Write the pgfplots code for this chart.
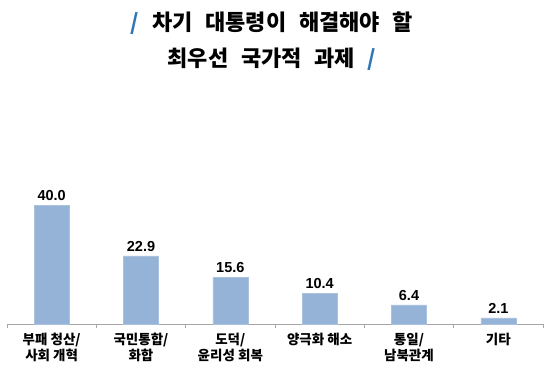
\documentclass[border=0pt]{standalone}
\usepackage{pgfplots}
\pgfplotsset{compat=1.18}
\usepackage{fontspec}
\setmainfont{Liberation Sans}
\newfontfamily\kr{Noto Sans CJK KR}
\definecolor{barblue}{HTML}{95B3D7}
\definecolor{slashblue}{HTML}{2E75B6}
\definecolor{axgray}{HTML}{A6A6A6}
\begin{document}
\begin{tikzpicture}[x=1pt,y=1pt]
\path[use as bounding box] (0,0) rectangle (550,372);
\node[font=\kr\bfseries\fontsize{22}{26}\selectfont] at (272,349) {\spaceskip=0.58em\relax{\color{slashblue}/} 차기 대통령이 해결해야 할};
\node[font=\kr\bfseries\fontsize{22}{26}\selectfont] at (272,313) {\spaceskip=0.58em\relax 최우선 국가적 과제 {\color{slashblue}/}};
\begin{axis}[
  at={(7pt,48pt)}, anchor=south west,
  scale only axis, width=536pt, height=148.75pt,
  xmin=-0.5, xmax=5.5, ymin=0, ymax=50,
  axis x line=bottom, axis y line=none,
  x axis line style={axgray, line width=0.8pt, -},
  xtick={0,1,2,3,4,5},
  xticklabels={{부패 청산/\\사회 개혁},{국민통합/\\화합},{도덕/\\윤리성 회복},{양극화 해소},{통일/\\남북관계},{기타}},
  xticklabel style={font=\kr\bfseries\fontsize{13.5}{16.5}\selectfont, align=center, anchor=north, yshift=-1pt},
  major x tick style={draw=none},
  minor xtick={-0.5,0.5,1.5,2.5,3.5,4.5,5.5},
  minor x tick style={axgray, line width=0.8pt},
  minor tick length=4pt,
  tick align=outside,
  ybar, bar width=35pt,
  nodes near coords,
  nodes near coords style={font=\bfseries\fontsize{14.5}{16}\selectfont, black, /pgf/number format/fixed, /pgf/number format/fixed zerofill, /pgf/number format/precision=1, /pgf/number format/assume math mode=true, yshift=1pt},
  clip=false,
]
\addplot[fill=barblue, draw=barblue!80!white] coordinates {(0,40.0) (1,22.9) (2,15.6) (3,10.4) (4,6.4) (5,2.1)};
\end{axis}
\end{tikzpicture}
\end{document}
